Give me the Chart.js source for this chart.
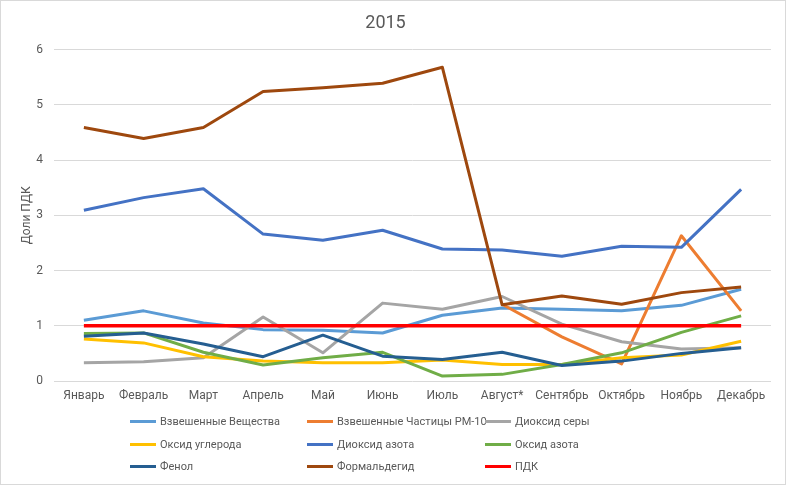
<!DOCTYPE html>
<html>
<head>
<meta charset="utf-8">
<script src="https://cdn.jsdelivr.net/npm/chart.js@4.4.1/dist/chart.umd.min.js"></script>
<style>
  body { margin: 0; background: #fff; }
  #wrap { position: relative; width: 786px; height: 485px; font-family: Roboto, sans-serif; }
  #frame { position: absolute; left: 0; top: 0; width: 784px; height: 483px; border: 1px solid #d9d9d9; pointer-events: none; }
  #legend { position: absolute; left: 130px; top: 413px; display: grid; grid-template-columns: 177px 178px 178px; row-gap: 5.5px; }
  .item { display: flex; align-items: center; height: 17px; font-size: 11px; color: #595959; white-space: nowrap; min-width: 0; }
  .swatch { width: 26px; height: 3px; margin-right: 4px; flex: none; }
</style>
</head>
<body>
<div id="wrap">
  <canvas id="chart" width="786" height="485"></canvas>
  <div id="legend"></div>
  <div id="frame"></div>
</div>
<script>
// --- данные ---
const months = ['Январь', 'Февраль', 'Март', 'Апрель', 'Май', 'Июнь', 'Июль', 'Август*', 'Сентябрь', 'Октябрь', 'Ноябрь', 'Декабрь'];

const vzveshVeshchestva = [1.10, 1.27, 1.05, 0.93, 0.92, 0.87, 1.19, 1.32, 1.30, 1.27, 1.37, 1.66];
const chasticyPM10     = [null, null, null, null, null, null, null, 1.39, 0.80, 0.31, 2.63, 1.27];
const dioksidSery      = [0.33, 0.35, 0.42, 1.16, 0.51, 1.41, 1.30, 1.53, 1.03, 0.71, 0.58, 0.60];
const oksidUgleroda    = [0.76, 0.69, 0.44, 0.36, 0.33, 0.33, 0.38, 0.30, 0.30, 0.42, 0.47, 0.72];
const dioksidAzota     = [3.09, 3.32, 3.48, 2.66, 2.55, 2.73, 2.39, 2.37, 2.26, 2.44, 2.42, 3.47];
const oksidAzota       = [0.86, 0.87, 0.52, 0.29, 0.42, 0.52, 0.09, 0.12, 0.30, 0.51, 0.88, 1.18];
const fenol            = [0.81, 0.87, 0.67, 0.44, 0.83, 0.45, 0.39, 0.52, 0.28, 0.36, 0.50, 0.60];
const formaldegid      = [4.59, 4.39, 4.59, 5.24, 5.31, 5.39, 5.68, 1.38, 1.54, 1.39, 1.60, 1.70];
const pdk              = [1, 1, 1, 1, 1, 1, 1, 1, 1, 1, 1, 1];

const yTicks = [0, 1, 2, 3, 4, 5, 6];

const series = [
    { name: 'Взвешенные Вещества', data: vzveshVeshchestva, color: '#5b9bd5' },
    { name: 'Взвешенные Частицы РМ-10', data: chasticyPM10, color: '#ed7d31' },
    { name: 'Диоксид серы', data: dioksidSery, color: '#a5a5a5' },
    { name: 'Оксид углерода', data: oksidUgleroda, color: '#ffc000' },
    { name: 'Диоксид азота', data: dioksidAzota, color: '#4472c4' },
    { name: 'Оксид азота', data: oksidAzota, color: '#70ad47' },
    { name: 'Фенол', data: fenol, color: '#255e91' },
    { name: 'Формальдегид', data: formaldegid, color: '#9e480e' },
    { name: 'ПДК', data: pdk, color: '#ff0000' }
];

const TEXT = '#595959';
const FONT = "Roboto, sans-serif";

new Chart(document.getElementById('chart'), {
    type: 'line',
    data: {
        labels: months,
        datasets: series.map((s, i) => ({
            label: s.name,
            data: s.data,
            borderColor: s.color,
            backgroundColor: s.color,
            borderWidth: s.name === 'ПДК' ? 3.5 : 3,
            pointRadius: 0,
            tension: 0,
            fill: false,
            spanGaps: false,
            borderJoinStyle: 'round',
            order: series.length - i // последние серии поверх
        }))
    },
    options: {
        responsive: false,
        animation: false,
        layout: { padding: { left: 0, right: 15, top: 0, bottom: 83 } },
        plugins: {
            legend: { display: false },
            tooltip: { enabled: false },
            title: {
                display: true,
                text: '2015',
                color: TEXT,
                font: { family: FONT, size: 18, weight: 'normal' },
                padding: { top: 13, bottom: 15 }
            }
        },
        scales: {
            x: {
                offset: true,
                grid: { display: false, drawTicks: false, offset: true },
                border: { display: false },
                ticks: { color: TEXT, font: { family: FONT, size: 12 }, padding: 8, maxRotation: 0, autoSkip: false },
                afterFit: (scale) => { scale.height = 21; }
            },
            y: {
                min: 0,
                max: 6,
                afterBuildTicks: (scale) => { scale.ticks = yTicks.map(v => ({ value: v })); },
                grid: { color: '#d9d9d9', lineWidth: 1, drawTicks: false },
                border: { display: false },
                ticks: { color: TEXT, font: { family: FONT, size: 12 }, padding: 11 },
                title: {
                    display: true,
                    text: 'Доли ПДК',
                    color: TEXT,
                    font: { family: FONT, size: 12 },
                    padding: { top: 20, bottom: 0 }
                },
                afterFit: (scale) => { scale.width = 54; }
            }
        }
    }
});

// легенда в три колонки, как в оригинале
const legend = document.getElementById('legend');
series.forEach(s => {
    const item = document.createElement('div');
    item.className = 'item';
    item.innerHTML = `<span class="swatch" style="background:${s.color}"></span><span>${s.name}</span>`;
    legend.appendChild(item);
});
</script>
</body>
</html>
